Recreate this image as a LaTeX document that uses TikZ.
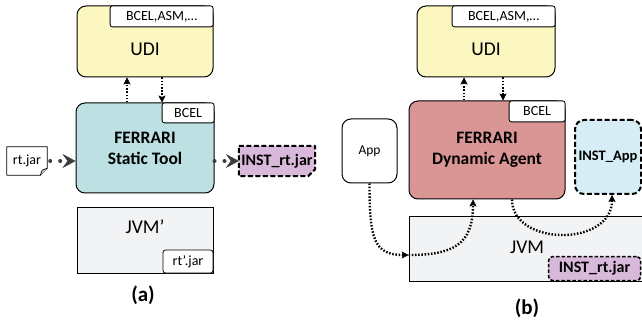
\documentclass[tikz,border=0pt]{standalone}
\usepackage{fontspec}
\setmainfont{Carlito}
\usetikzlibrary{arrows.meta,positioning,backgrounds}
\definecolor{udiyellow}{HTML}{FCF6C0}
\definecolor{statcyan}{HTML}{BDE0E3}
\definecolor{dynred}{HTML}{D99694}
\definecolor{appblue}{HTML}{D6EDF5}
\definecolor{jvmgray}{HTML}{F2F3F5}
\definecolor{instpurple}{HTML}{D9B9D9}
\definecolor{feedgray}{HTML}{3C3C3C}
\begin{document}
\begin{tikzpicture}[x=1pt,y=-1pt,
    main box/.style={draw,line width=1pt,rounded corners=9pt,inner sep=0pt},
    tab/.style={draw,fill=white,line width=0.8pt,rounded corners=2.5pt,inner sep=0pt,
      font=\fontsize{14}{16}\selectfont},
    inst/.style={draw,line width=2pt,dash pattern=on 5pt off 2.5pt,inner sep=0pt,
      font=\bfseries\fontsize{14.5}{17}\selectfont},
    big text/.style={font=\fontsize{19.5}{22}\selectfont},
    tool text/.style={align=center,font=\bfseries\fontsize{17.5}{21}\selectfont},
    dots/.style={line width=2.4pt,dash pattern=on 1.5pt off 1.7pt,
      -{Stealth[length=7pt,width=7pt,inset=1.5pt,line width=0.4pt]}},
    feed/.style={line width=4pt,dash pattern=on 0pt off 10pt,line cap=round,draw=feedgray,
      -{Stealth[length=13pt,width=14pt,inset=5pt,line width=0.4pt]}},
    caption/.style={font=\bfseries\fontsize{21}{24}\selectfont}]

  \useasboundingbox (0,0) rectangle (642,320);

  % (a) static instrumentation
  \node[main box,fill=udiyellow,minimum width=136pt,minimum height=71pt] (udiA) at (145,41.5) {};
  \node[tab,minimum width=103pt,minimum height=21pt,anchor=north east] (libsA) at (udiA.north east) {BCEL,ASM,…};
  \node[big text] at ([yshift=-7.5pt]udiA.center) {UDI};

  \node[main box,fill=statcyan,minimum width=138pt,minimum height=90pt,tool text] (ferA) at (145,148) {FERRARI\\Static Tool};
  \node[tab,minimum width=52pt,minimum height=20pt,anchor=north east] (bcelA) at (ferA.north east) {BCEL};

  \node[minimum width=40pt,minimum height=28pt,inner sep=0pt,font=\fontsize{14}{16}\selectfont] (rtjar) at (27,161) {rt.jar};
  \draw[line width=0.7pt,line join=round] (rtjar.north west) -- (rtjar.north east) -- ([yshift=7pt]rtjar.south east)
    -- ([xshift=-7pt]rtjar.south east) -- (rtjar.south west) -- cycle;
  \draw[line width=0.7pt,fill=gray!30] ([yshift=7pt]rtjar.south east) -- ([shift={(-5pt,5pt)}]rtjar.south east)
    -- ([xshift=-7pt]rtjar.south east);

  \node[minimum width=76pt,minimum height=30pt,inner sep=0pt,font=\bfseries\fontsize{16}{18}\selectfont] (instA) at (277,161) {INST\_rt.jar};
  \begin{scope}[on background layer]
    \draw[inst,fill=instpurple,line join=round] (instA.north west) -- (instA.north east) -- ([yshift=7pt]instA.south east)
      -- ([xshift=-7pt]instA.south east) -- (instA.south west) -- cycle;
  \end{scope}

  \draw[feed] ([xshift=3pt]rtjar.east) -- (rtjar.east -| ferA.west);
  \draw[feed] (instA.west -| ferA.east) -- (instA.west);

  \draw[dots] ([xshift=-18pt]ferA.north) -- ([xshift=-18pt]udiA.south);
  \draw[dots] ([xshift=17pt]udiA.south) -- ([xshift=17pt]ferA.north);

  \node[draw,fill=jvmgray,line width=0.8pt,minimum width=136pt,minimum height=66pt] (jvmA) at (145,240) {};
  \node[big text] at ([yshift=13pt]jvmA.center) {JVM’};
  \node[tab,minimum width=50pt,minimum height=23pt,anchor=south east] (rtA) at (jvmA.south east) {rt’.jar};

  \node[caption] at (143,295) {(a)};

  % (b) dynamic agent
  \node[main box,fill=udiyellow,minimum width=138pt,minimum height=71pt] (udiB) at (486,41.5) {};
  \node[tab,minimum width=103pt,minimum height=21pt,anchor=north east] (libsB) at (udiB.north east) {BCEL,ASM,…};
  \node[big text] at ([yshift=-7.5pt]udiB.center) {UDI};

  \node[main box,fill=dynred,minimum width=156pt,minimum height=98pt,tool text] (ferB) at (487,150) {FERRARI\\Dynamic Agent};
  \node[tab,minimum width=56pt,minimum height=21pt,anchor=north east] (bcelB) at (ferB.north east) {BCEL};

  \node[main box,fill=white,minimum width=55pt,minimum height=64pt,font=\fontsize{13.5}{16}\selectfont] (app) at (369.5,151) {App};
  \node[inst,fill=appblue,rounded corners=9pt,minimum width=66pt,minimum height=74pt] (instApp) at (608,157) {INST\_App};

  \node[draw,fill=jvmgray,line width=0.8pt,minimum width=236pt,minimum height=65pt] (jvmB) at (527,248.5) {};
  \node[big text] at ([yshift=1pt]jvmB.center) {JVM};
  \node[inst,fill=instpurple,line width=1.6pt,dash pattern=on 3.5pt off 2pt,rounded corners=4pt,
    minimum width=92pt,minimum height=24pt,anchor=south east,font=\bfseries\fontsize{16}{18}\selectfont] (instRtB) at ([xshift=-4pt]jvmB.south east) {INST\_rt.jar};

  \coordinate (jvmIn) at ([yshift=-6.5pt]jvmB.west);
  \draw[dots] (app.south) .. controls +(0,55) and +(-35,0) .. (jvmIn);
  \draw[dots] (jvmIn) .. controls +(45,0) and +(0,45) .. ([xshift=-14pt]ferB.south);
  \draw[dots] ([xshift=25pt]ferB.south) .. controls +(0,47) and +(0,52) .. ([xshift=4pt]instApp.south);

  \draw[dots] ([xshift=-23pt]ferB.north) -- ([xshift=-22pt]udiB.south);
  \draw[dots] ([xshift=17pt]udiB.south) -- ([xshift=16pt]ferB.north);

  \node[caption] at (527,308) {(b)};
\end{tikzpicture}
\end{document}
